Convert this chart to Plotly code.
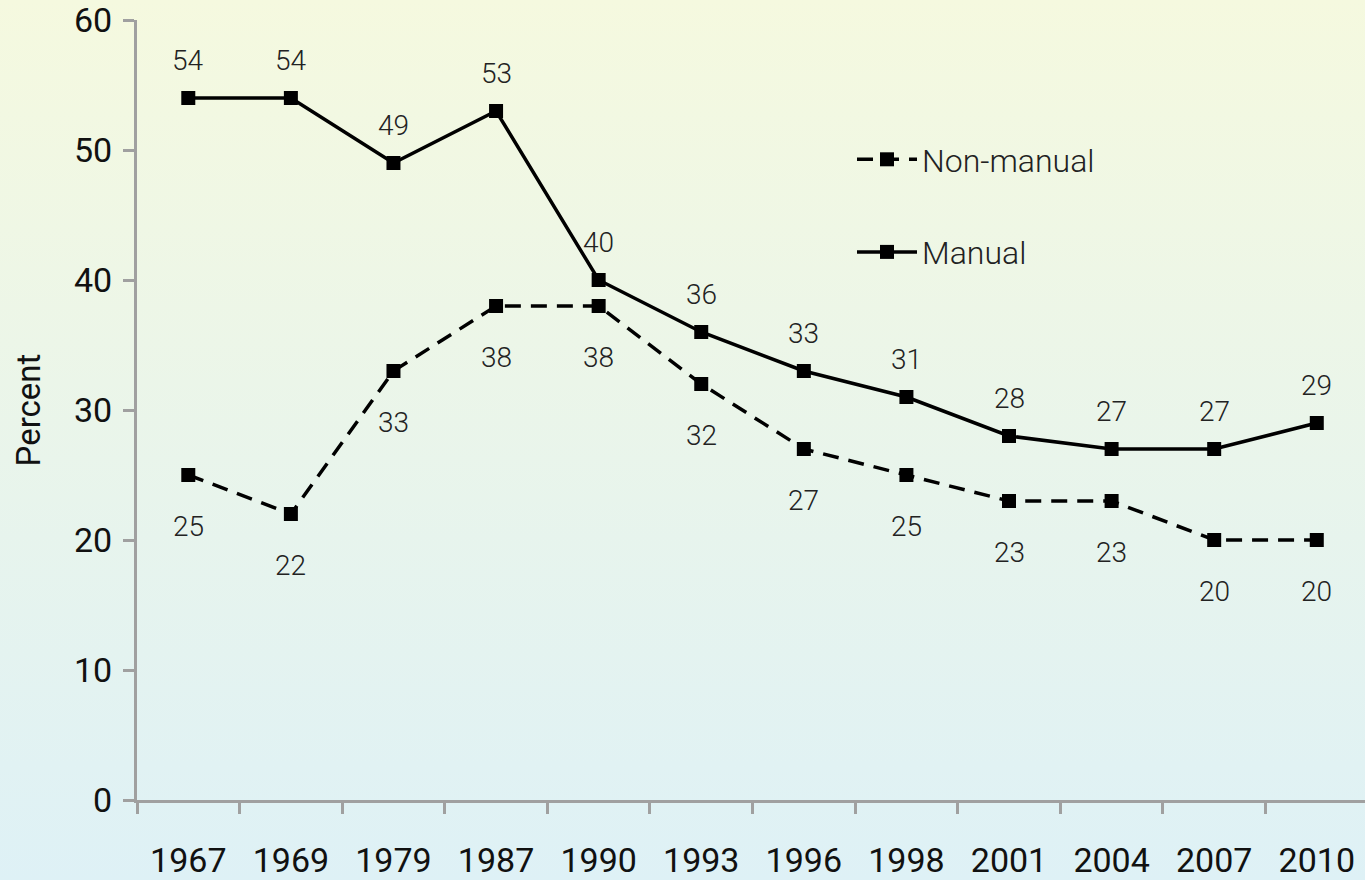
import base64
import plotly.graph_objects as go

years = ["1967", "1969", "1979", "1987", "1990", "1993", "1996", "1998", "2001", "2004", "2007", "2010"]
manual = [54, 54, 49, 53, 40, 36, 33, 31, 28, 27, 27, 29]
non_manual = [25, 22, 33, 38, 38, 32, 27, 25, 23, 23, 20, 20]
y_ticks = [0, 10, 20, 30, 40, 50, 60]

W, H = 1365, 880
L, R, T, B = 137, 0, 20, 80
pw, ph = W - L - R, H - T - B

FONT = "Roboto"
AXIS_COL = "#A0A0A0"

fig = go.Figure()
fig.add_trace(go.Scatter(
    x=years, y=non_manual, name="Non-manual", mode="lines+markers",
    line=dict(color="black", width=3.5, dash="16px,10px"),
    marker=dict(symbol="square", size=14, color="black"),
    legendgroup="a",
))
fig.add_trace(go.Scatter(
    x=years, y=manual, name="Manual", mode="lines+markers",
    line=dict(color="black", width=3.5),
    marker=dict(symbol="square", size=14, color="black"),
    legendgroup="b",
))

lab_font = dict(family=FONT, size=28, color="#222", weight=300)
annots = []
for i, v in enumerate(manual):
    annots.append(dict(x=i, y=v, xref="x", yref="y", text=str(v), showarrow=False, yshift=38,
                       font=lab_font))
for i, v in enumerate(non_manual):
    annots.append(dict(x=i, y=v, xref="x", yref="y", text=str(v), showarrow=False, yshift=-51,
                       font=lab_font))

svg = (f'<svg xmlns="http://www.w3.org/2000/svg" width="{W}" height="{H}">'
       '<defs><linearGradient id="g" x1="0" y1="0" x2="0" y2="1">'
       '<stop offset="0" stop-color="#F5F9DF"/>'
       '<stop offset="1" stop-color="#DEF1F6"/>'
       '</linearGradient></defs>'
       f'<rect width="{W}" height="{H}" fill="url(#g)"/></svg>')
src = "data:image/svg+xml;base64," + base64.b64encode(svg.encode()).decode()

fig.update_layout(
    width=W, height=H,
    margin=dict(l=L, r=R, t=T, b=B),
    paper_bgcolor="rgba(0,0,0,0)",
    plot_bgcolor="rgba(0,0,0,0)",
    font=dict(family=FONT, color="#111"),
    showlegend=True,
    legend=dict(
        x=(852 - L) / pw, y=1 - (132 - T) / ph, xanchor="left", yanchor="top",
        font=dict(family=FONT, size=32, color="#222", weight=300),
        bgcolor="rgba(0,0,0,0)", tracegroupgap=48, itemwidth=60,
    ),
    annotations=annots,
    images=[dict(source=src, xref="paper", yref="paper",
                 x=-L / pw, y=1 + T / ph, sizex=W / pw, sizey=H / ph,
                 xanchor="left", yanchor="top", sizing="stretch", layer="below")],
    xaxis=dict(
        type="category", range=[-0.5, 11.47],
        showline=True, linecolor=AXIS_COL, linewidth=3,
        ticks="outside", tickson="boundaries", ticklen=11, tickwidth=3, tickcolor=AXIS_COL,
        showgrid=False, zeroline=False,
        tickfont=dict(family=FONT, size=34, color="#111", weight=400),
        ticklabelstandoff=28, ticklabeloverflow="allow",
    ),
    yaxis=dict(
        range=[0, 60], tickvals=y_ticks,
        showline=True, linecolor=AXIS_COL, linewidth=3,
        ticks="outside", ticklen=11, tickwidth=3, tickcolor=AXIS_COL,
        showgrid=False, zeroline=False,
        tickfont=dict(family=FONT, size=34, color="#111", weight=400),
        ticklabelstandoff=4, ticklabeloverflow="allow",
        title=dict(text="Percent", font=dict(family=FONT, size=33, color="#111", weight=400), standoff=24),
    ),
)

fig.write_html(
    "out.html",
    config={"displayModeBar": False},
    post_script="document.body.style.margin='0';document.body.style.overflow='hidden';",
)
